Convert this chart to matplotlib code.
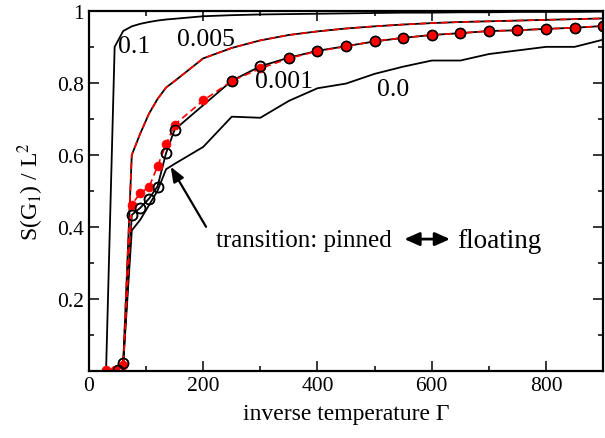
import matplotlib
matplotlib.use("Agg")
import matplotlib.pyplot as plt
from matplotlib.ticker import MultipleLocator

plt.rcParams['font.family'] = ['Liberation Serif', 'DejaVu Serif']
plt.rcParams['mathtext.fontset'] = 'stix'

# ---- data ----
x_01 = [30, 45, 60, 75, 90, 105, 120, 135, 150, 200, 250, 300, 350, 400, 450, 500,
        550, 600, 650, 700, 750, 800, 850, 900]
y_01 = [0.0, 0.90, 0.944, 0.957, 0.964, 0.969, 0.973, 0.976, 0.978, 0.985, 0.988, 0.990,
        0.991, 0.992, 0.993, 0.994, 0.995, 0.995, 0.996, 0.996, 0.997, 0.997, 0.997, 0.998]

x_005 = [45, 60, 75, 90, 105, 120, 135, 150, 200, 250, 300, 350, 400, 450, 500, 550,
         600, 650, 700, 750, 800, 850, 900]
y_005 = [0.0, 0.02, 0.60, 0.66, 0.714, 0.755, 0.787, 0.805, 0.868, 0.897, 0.918, 0.933,
         0.943, 0.951, 0.957, 0.962, 0.966, 0.969, 0.971, 0.973, 0.975, 0.977, 0.979]
y_005_red = [0.0, 0.02, 0.60, 0.66, 0.714, 0.755, 0.787, 0.805, 0.868, 0.897, 0.918, 0.933,
             0.943, 0.951, 0.957, 0.962, 0.966, 0.969, 0.971, 0.973, 0.975, 0.977, 0.979]

x_001_open = [50, 60, 75, 90, 105, 120, 135, 150, 250, 300, 350, 400, 450, 500, 550,
              600, 650, 700, 750, 800, 850, 900]
y_001_open = [0.003, 0.022, 0.433, 0.453, 0.478, 0.512, 0.605, 0.670, 0.806, 0.846, 0.870,
              0.889, 0.902, 0.915, 0.925, 0.933, 0.938, 0.944, 0.946, 0.950, 0.953, 0.958]

x_001_red = [30, 45, 60, 75, 90, 105, 120, 135, 150, 200, 250, 300, 350, 400, 450, 500,
             550, 600, 650, 700, 750, 800, 850, 900]
y_001_red = [0.003, 0.003, 0.015, 0.462, 0.494, 0.510, 0.568, 0.629, 0.684, 0.751, 0.805,
             0.840, 0.868, 0.888, 0.901, 0.916, 0.925, 0.933, 0.938, 0.944, 0.946, 0.950,
             0.953, 0.958]

x_00 = [45, 60, 75, 90, 105, 120, 135, 150, 200, 250, 300, 350, 400, 450, 500, 550, 600,
        650, 700, 750, 800, 850, 900]
y_00 = [0.0, 0.02, 0.39, 0.42, 0.46, 0.50, 0.56, 0.575, 0.622, 0.706, 0.703, 0.75, 0.785,
        0.798, 0.825, 0.845, 0.862, 0.862, 0.88, 0.89, 0.90, 0.90, 0.92]

curve_labels = ["0.1", "0.005", "0.001", "0.0"]
label_pos = [(51, 0.903), (154, 0.922), (290, 0.806), (505, 0.783)]

# ---- figure ----
fig = plt.figure(figsize=(6.05, 4.39), dpi=100)
ax = fig.add_axes([0.147, 0.153, 0.850, 0.820])

ax.plot(x_01, y_01, color='black', lw=1.3)
ax.plot(x_005, y_005, color='black', lw=1.3)
ax.plot(x_005, y_005_red, color='red', lw=1.2, dashes=(4, 2.5))
ax.plot(x_00, y_00, color='black', lw=1.3)
ax.plot(x_001_open, y_001_open, color='black', lw=1.3, marker='o', ms=7.2,
        mfc='none', mec='black', mew=1.1)
ax.plot(x_001_red, y_001_red, color='red', lw=1.2, dashes=(4, 2.5), marker='o', ms=6.4,
        mfc='red', mec='red', mew=0.5)
ax.plot(x_001_open, y_001_open, color='none', marker='o', ms=7.2,
        mfc='none', mec='black', mew=1.1, ls='none')

for lab, (lx, ly) in zip(curve_labels, label_pos):
    ax.text(lx, ly, lab, fontsize=18.5, ha='left', va='center')

ax.annotate("", xy=(143, 0.567), xytext=(205, 0.40),
            arrowprops=dict(arrowstyle='-|>,head_length=0.9,head_width=0.35',
                            color='black', lw=1.6, shrinkA=0, shrinkB=0))
ax.text(222, 0.363, "transition: pinned", fontsize=18, ha='left', va='center')
ax.annotate("", xy=(552, 0.366), xytext=(632, 0.366),
            arrowprops=dict(arrowstyle='<|-|>,head_length=0.9,head_width=0.4',
                            color='black', lw=2.0, shrinkA=0, shrinkB=0))
ax.text(644, 0.363, "floating", fontsize=19.5, ha='left', va='center')

ax.set_xlim(0, 900)
ax.set_ylim(0, 1)
ax.xaxis.set_major_locator(MultipleLocator(200))
ax.xaxis.set_minor_locator(MultipleLocator(100))
ax.yaxis.set_major_locator(MultipleLocator(0.2))
ax.yaxis.set_minor_locator(MultipleLocator(0.1))
ax.set_yticks([0.2, 0.4, 0.6, 0.8, 1.0])
ax.set_yticklabels(["0.2", "0.4", "0.6", "0.8", "1"])
ax.tick_params(which='both', direction='in', top=True, right=True, labelsize=15.5,
               width=1.1)
ax.tick_params(which='major', length=7)
ax.tick_params(which='minor', length=3.5)
for s in ax.spines.values():
    s.set_linewidth(1.6)

ax.set_xlabel("inverse temperature Γ", fontsize=17, labelpad=6)
ax.set_ylabel(r"S(G$_1$) / L$^2$", fontsize=17, labelpad=8)

fig.savefig("out.png", dpi=100)
